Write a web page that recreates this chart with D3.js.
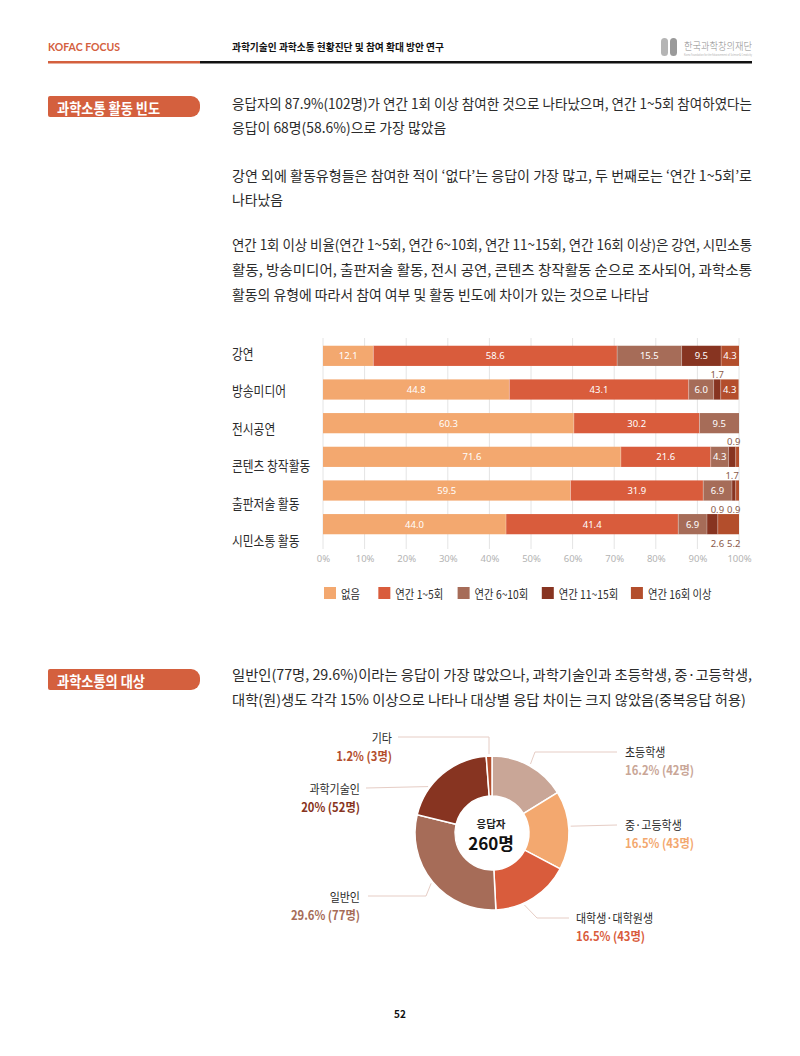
<!DOCTYPE html>
<html>
<head>
<meta charset="utf-8">
<script src="https://cdn.jsdelivr.net/npm/d3@7"></script>
<style>
    body { margin: 0; background: #fff; }
    svg { display: block; font-family: "Noto Sans CJK KR", "Noto Sans", sans-serif; }
</style>
</head>
<body>
<svg id="page" width="800" height="1056"></svg>
<script>
// ---- data: activity frequency (%) ----
const activities = ['강연', '방송미디어', '전시공연', '콘텐츠 창작활동', '출판저술 활동', '시민소통 활동'];
const freqLevels = ['없음', '연간 1~5회', '연간 6~10회', '연간 11~15회', '연간 16회 이상'];
const freqNone = [12.1, 44.8, 60.3, 71.6, 59.5, 44.0];
const freq1to5 = [58.6, 43.1, 30.2, 21.6, 31.9, 41.4];
const freq6to10 = [15.5, 6.0, 9.5, 4.3, 6.9, 6.9];
const freq11to15 = [9.5, 1.7, 0, 1.7, 0.9, 2.6];
const freq16plus = [4.3, 4.3, 0, 0.9, 0.9, 5.2];
const xTicks = [0, 10, 20, 30, 40, 50, 60, 70, 80, 90, 100];
// small segments whose value sits outside the bar: [activity, level index, side]
const outsideLabels = [
    ['방송미디어', 3, 'above'],
    ['콘텐츠 창작활동', 4, 'above'],
    ['콘텐츠 창작활동', 3, 'below'],
    ['출판저술 활동', 3, 'below'],
    ['출판저술 활동', 4, 'below'],
    ['시민소통 활동', 3, 'below'],
    ['시민소통 활동', 4, 'below']
];

// ---- data: communication targets ----
const targets = ['초등학생', '중·고등학생', '대학생·대학원생', '일반인', '과학기술인', '기타'];
const targetPct = [16.2, 16.5, 16.5, 29.6, 20, 1.2];
const targetCount = [42, 43, 43, 77, 52, 3];
const totalRespondents = 260;

const barColors = ['#f3a86f', '#d95c3c', '#a66c58', '#873421', '#b34e2c'];
const pieColors = ['#c9a697', '#f3a86f', '#d95c3c', '#a66c58', '#873421', '#b34e2c'];
const accent = '#d4603e';

const svg = d3.select('#page');

// squeeze text horizontally (the original face is condensed)
function squeeze(sel, f) {
    sel.each(function () {
        const w = this.getComputedTextLength();
        d3.select(this).attr('textLength', w * f).attr('lengthAdjust', 'spacingAndGlyphs');
    });
    return sel;
}

// ---- header ----
svg.append('text')
    .attr('x', 48).attr('y', 51)
    .attr('fill', accent).attr('font-weight', 700).attr('font-size', 10.5)
    .attr('font-family', 'Lato, "Open Sans", sans-serif')
    .text('KOFAC FOCUS');

svg.append('text')
    .attr('x', 232).attr('y', 51)
    .attr('fill', '#111').attr('font-weight', 700).attr('font-size', 10.5)
    .text('과학기술인 과학소통 현황진단 및 참여 확대 방안 연구')
    .attr('textLength', 212).attr('lengthAdjust', 'spacingAndGlyphs');

svg.append('rect').attr('x', 48).attr('y', 61).attr('width', 152).attr('height', 2.5).attr('fill', accent);
svg.append('rect').attr('x', 200).attr('y', 61).attr('width', 552).attr('height', 2.5).attr('fill', '#111');

// logo
const logo = svg.append('g');
logo.append('rect').attr('x', 661).attr('y', 38).attr('width', 7).attr('height', 18).attr('rx', 3.5).attr('fill', '#b5b5b5');
logo.append('rect').attr('x', 670).attr('y', 38).attr('width', 7).attr('height', 18).attr('rx', 3.5).attr('fill', '#9a9a9a');
logo.append('text').attr('x', 684).attr('y', 50).attr('font-size', 10.5).attr('fill', '#8a8a8a')
    .attr('font-weight', 300).text('한국과학창의재단')
    .attr('textLength', 68).attr('lengthAdjust', 'spacingAndGlyphs');
logo.append('text').attr('x', 684).attr('y', 56).attr('font-size', 3).attr('fill', '#b0b0b0')
    .text('Korea Foundation for the Advancement of Science & Creativity')
    .attr('textLength', 68).attr('lengthAdjust', 'spacingAndGlyphs');

// ---- section labels ----
function sectionLabel(label, y) {
    const x0 = 48, w = 152, h = 21, r = 9;
    svg.append('path')
        .attr('d', `M${x0 + 2},${y} H${x0 + w - r} A${r},${r} 0 0 1 ${x0 + w},${y + r} V${y + h - r} A${r},${r} 0 0 1 ${x0 + w - r},${y + h} H${x0 + 2} Q${x0},${y + h} ${x0},${y + h - 2} V${y + 2} Q${x0},${y} ${x0 + 2},${y} Z`)
        .attr('fill', accent);
    squeeze(svg.append('text')
        .attr('x', 57).attr('y', y + h / 2 + 0.5)
        .attr('dominant-baseline', 'central')
        .attr('fill', '#fff').attr('font-weight', 700).attr('font-size', 15)
        .text(label), 0.88);
}
sectionLabel('과학소통 활동 빈도', 96);
sectionLabel('과학소통의 대상', 669);

// ---- body paragraphs ----
function paragraph(lines) {
    const full = [], rest = [];
    lines.forEach(([t, y, isFull]) => {
        const el = svg.append('text')
            .attr('x', 232).attr('y', y)
            .attr('font-size', 14).attr('fill', '#2b2b2b')
            .text(t);
        (isFull ? full : rest).push(el);
    });
    const ratios = [];
    full.forEach(el => {
        const w = el.node().getComputedTextLength();
        ratios.push(520 / w);
        el.attr('textLength', 520).attr('lengthAdjust', 'spacingAndGlyphs');
    });
    const f = ratios.length ? d3.mean(ratios) : 0.9;
    rest.forEach(el => squeeze(el, f));
}

paragraph([
    ['응답자의 87.9%(102명)가 연간 1회 이상 참여한 것으로 나타났으며, 연간 1~5회 참여하였다는', 109, true],
    ['응답이 68명(58.6%)으로 가장 많았음', 133, false],
    ['강연 외에 활동유형들은 참여한 적이 ‘없다’는 응답이 가장 많고, 두 번째로는 ‘연간 1~5회’로', 181, true],
    ['나타났음', 205, false],
    ['연간 1회 이상 비율(연간 1~5회, 연간 6~10회, 연간 11~15회, 연간 16회 이상)은 강연, 시민소통', 250, true],
    ['활동, 방송미디어, 출판저술 활동, 전시 공연, 콘텐츠 창작활동 순으로 조사되어, 과학소통', 275, true],
    ['활동의 유형에 따라서 참여 여부 및 활동 빈도에 차이가 있는 것으로 나타남', 300, false]
]);

paragraph([
    ['일반인(77명,  29.6%)이라는 응답이 가장 많았으나, 과학기술인과 초등학생, 중·고등학생,', 680, true],
    ['대학(원)생도 각각 15% 이상으로 나타나 대상별 응답 차이는 크지 않았음(중복응답 허용)', 705, false]
]);

// ---- stacked bar chart ----
const rows = activities.map((a, i) => {
    const r = { activity: a };
    [freqNone, freq1to5, freq6to10, freq11to15, freq16plus].forEach((s, k) => { r[freqLevels[k]] = s[i]; });
    return r;
});
const series = d3.stack().keys(freqLevels)(rows);

const xScale = d3.scaleLinear().domain([0, 100]).range([323, 739]).clamp(true);
const yBar = d3.scaleBand().domain(activities).range([339, 541]).paddingInner(0.4).paddingOuter(0.2);
const yLabel = d3.scalePoint().domain(activities).range([353, 540]);
const color = d3.scaleOrdinal().domain(freqLevels).range(barColors);

const chart = svg.append('g');

// grid
chart.selectAll('.grid')
    .data(xTicks)
    .join('line')
    .attr('class', 'grid')
    .attr('x1', d => xScale(d)).attr('x2', d => xScale(d))
    .attr('y1', 338).attr('y2', 549)
    .attr('stroke', '#e4e4e4').attr('stroke-width', 1);

// x axis (labels only)
const xAxis = chart.append('g')
    .attr('transform', 'translate(0,556)')
    .call(d3.axisBottom(xScale).tickValues(xTicks).tickFormat(d => d + '%').tickSize(0).tickPadding(0));
xAxis.select('.domain').remove();
xAxis.selectAll('text')
    .attr('fill', '#b3b3b3').attr('font-size', 9.5)
    .attr('font-family', '"Noto Sans", sans-serif')
    .attr('dy', '0.6em');

// category labels
squeeze(chart.selectAll('.cat')
    .data(activities)
    .join('text')
    .attr('class', 'cat')
    .attr('x', 232).attr('y', d => yLabel(d))
    .attr('dominant-baseline', 'central')
    .attr('font-size', 13.5).attr('fill', '#2b2b2b')
    .text(d => d), 0.87);

// segments
const layers = chart.selectAll('.layer')
    .data(series)
    .join('g')
    .attr('class', 'layer')
    .attr('fill', d => color(d.key));

layers.selectAll('rect')
    .data(d => d)
    .join('rect')
    .attr('x', d => xScale(d[0]))
    .attr('y', d => yBar(d.data.activity))
    .attr('width', d => Math.max(0, xScale(d[1]) - xScale(d[0])))
    .attr('height', yBar.bandwidth());

// separators between segments
layers.selectAll('line')
    .data(d => d.filter(s => s[0] > 0 && s[1] - s[0] > 0))
    .join('line')
    .attr('x1', d => xScale(d[0])).attr('x2', d => xScale(d[0]))
    .attr('y1', d => yBar(d.data.activity)).attr('y2', d => yBar(d.data.activity) + yBar.bandwidth())
    .attr('stroke', '#fff').attr('stroke-opacity', 0.5).attr('stroke-width', 0.6);

// value labels
const isOutside = (act, k) => outsideLabels.some(o => o[0] === act && o[1] === k);
const inside = [];
series.forEach((s, k) => s.forEach(d => {
    const v = d[1] - d[0];
    if (v > 0 && !isOutside(d.data.activity, k)) inside.push({ d, v });
}));

chart.selectAll('.val')
    .data(inside)
    .join('text')
    .attr('class', 'val')
    .attr('x', o => (xScale(o.d[0]) + xScale(o.d[1])) / 2)
    .attr('y', o => yBar(o.d.data.activity) + yBar.bandwidth() / 2)
    .attr('text-anchor', 'middle').attr('dominant-baseline', 'central')
    .attr('font-size', 9.5).attr('fill', '#fff')
    .attr('font-family', '"Noto Sans", sans-serif')
    .text(o => o.v.toFixed(1));

// outside labels, chained right-aligned at the end of the bar
const groups = d3.group(outsideLabels, o => o[0], o => o[2]);
groups.forEach((bySide, act) => {
    bySide.forEach((items, side) => {
        const i = activities.indexOf(act);
        const y = side === 'above' ? yBar(act) - 5 : yBar(act) + yBar.bandwidth() + 9;
        const sorted = items.slice().sort((a, b) => b[1] - a[1]);
        let right = xScale(100) + 1.5;
        sorted.forEach(o => {
            const seg = series[o[1]][i];
            const t = chart.append('text')
                .attr('y', y)
                .attr('dominant-baseline', 'central')
                .attr('font-size', 9.5).attr('fill', '#8a5a4a')
                .attr('font-family', '"Noto Sans", sans-serif')
                .text((seg[1] - seg[0]).toFixed(1));
            const w = t.node().getComputedTextLength();
            if (items.length === 1) {
                const cx = Math.min((xScale(seg[0]) + xScale(seg[1])) / 2, right - w / 2);
                t.attr('x', cx).attr('text-anchor', 'middle');
            } else {
                t.attr('x', right).attr('text-anchor', 'end');
                right -= w + 3;
            }
        });
    });
});

// legend
const legend = svg.append('g').attr('transform', 'translate(324,587)');
let lx = 0;
freqLevels.forEach((lvl, k) => {
    const item = legend.append('g').attr('transform', `translate(${lx},0)`);
    item.append('rect').attr('width', 12).attr('height', 12).attr('fill', barColors[k]);
    const t = item.append('text')
        .attr('x', 17).attr('y', 6.5)
        .attr('dominant-baseline', 'central')
        .attr('font-size', 12).attr('fill', '#2b2b2b')
        .text(lvl);
    squeeze(t, 0.86);
    lx += 17 + t.node().getComputedTextLength() * 0.86 + 21;
});

// ---- donut chart ----
const pieData = targets.map((t, i) => ({ name: t, pct: targetPct[i], count: targetCount[i], color: pieColors[i] }));
const pie = d3.pie().sort(null).value(d => d.pct);
const arcs = pie(pieData);
const rOuter = 77, rInner = 37;
const arc = d3.arc().innerRadius(rInner).outerRadius(rOuter);
const cx = 492, cy = 833;

const donut = svg.append('g').attr('transform', `translate(${cx},${cy})`);
donut.selectAll('path')
    .data(arcs)
    .join('path')
    .attr('d', arc)
    .attr('fill', d => d.data.color)
    .attr('stroke', '#fff').attr('stroke-width', 1.5);

donut.append('text')
    .attr('x', -1).attr('y', -10)
    .attr('text-anchor', 'middle').attr('dominant-baseline', 'central')
    .attr('font-size', 10.5).attr('font-weight', 700).attr('fill', '#222')
    .text('응답자');
donut.append('text')
    .attr('x', -1).attr('y', 9)
    .attr('text-anchor', 'middle').attr('dominant-baseline', 'central')
    .attr('font-size', 17).attr('font-weight', 700).attr('fill', '#111')
    .text(totalRespondents + '명');

// label placement for the donut annotations
const pieLabelLayout = {
    '초등학생': { anchor: 'start', x: 625, y: 752, at: 0.5, path: [[535, 752], [617, 752]] },
    '중·고등학생': { anchor: 'start', x: 625, y: 825, at: 0.45, path: [[617, 825]] },
    '대학생·대학원생': { anchor: 'start', x: 576, y: 918, at: 0.64, path: [[537, 918], [569, 918]] },
    '일반인': { anchor: 'end', x: 360, y: 897, at: 0.5, path: [[426, 896], [368, 896]] },
    '과학기술인': { anchor: 'end', x: 360, y: 789, at: 0.31, path: [[366, 788]] },
    '기타': { anchor: 'end', x: 392, y: 738, at: 0.5, path: [[489, 737], [398, 737]] }
};

arcs.forEach(a => {
    const L = pieLabelLayout[a.data.name];
    const ang = a.startAngle + (a.endAngle - a.startAngle) * L.at;
    const start = [cx + (rOuter + 2) * Math.sin(ang), cy - (rOuter + 2) * Math.cos(ang)];
    svg.append('path')
        .attr('d', d3.line()([start, ...L.path]))
        .attr('fill', 'none').attr('stroke', '#e6cdc5').attr('stroke-width', 1);

    squeeze(svg.append('text')
        .attr('x', L.x).attr('y', L.y - 1)
        .attr('text-anchor', L.anchor).attr('dominant-baseline', 'central')
        .attr('font-size', 12.5).attr('fill', '#2b2b2b')
        .text(a.data.name), 0.88);
    squeeze(svg.append('text')
        .attr('x', L.x).attr('y', L.y + 17)
        .attr('text-anchor', L.anchor).attr('dominant-baseline', 'central')
        .attr('font-size', 12.5).attr('font-weight', 700).attr('fill', a.data.color)
        .text(`${a.data.pct}% (${a.data.count}명)`), 0.9);
});

// ---- page number ----
svg.append('text')
    .attr('x', 400).attr('y', 1013)
    .attr('text-anchor', 'middle').attr('dominant-baseline', 'central')
    .attr('font-size', 10).attr('font-weight', 700).attr('fill', '#111')
    .text('52');
</script>
</body>
</html>
